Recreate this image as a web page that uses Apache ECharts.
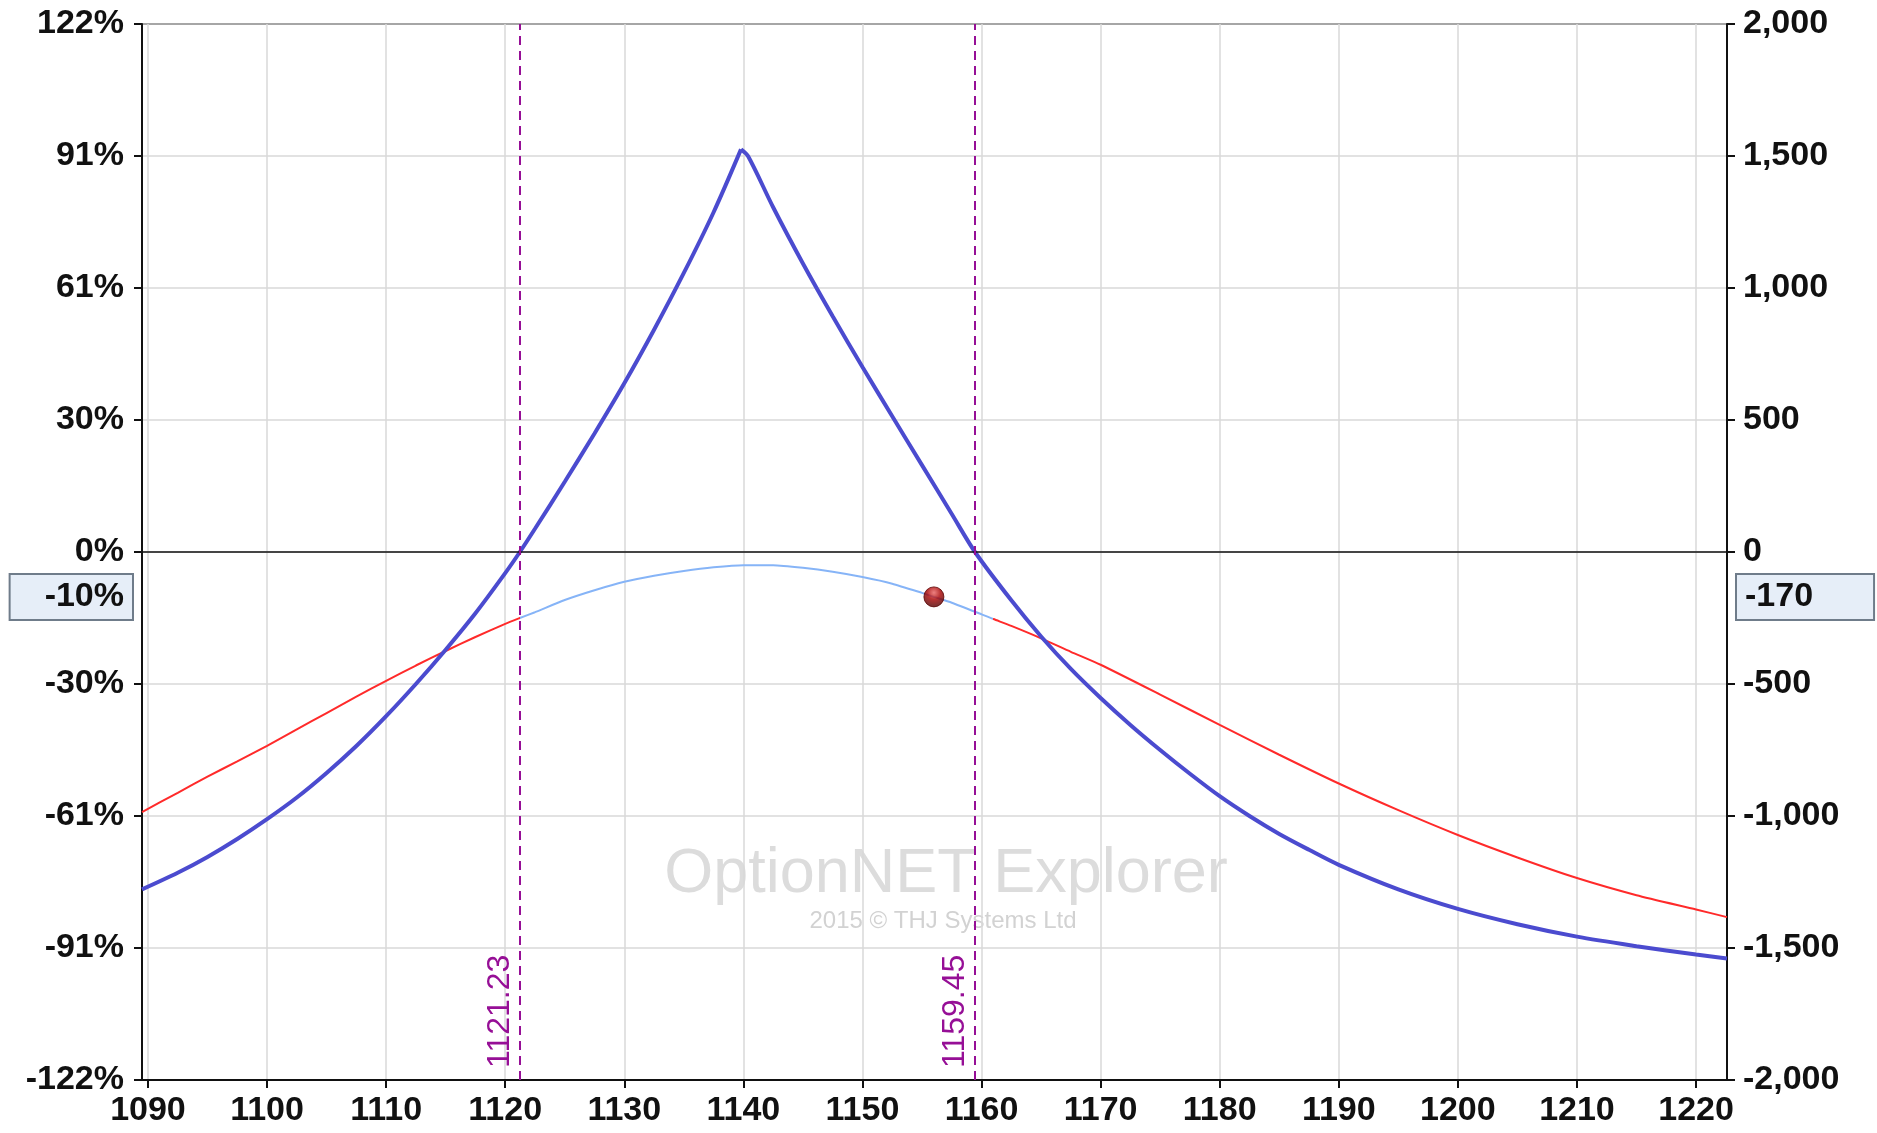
<!DOCTYPE html>
<html>
<head>
<meta charset="utf-8">
<script src="https://cdn.jsdelivr.net/npm/echarts@6/dist/echarts.min.js"></script>
<style>
html,body{margin:0;padding:0;background:#ffffff;}
#chart{width:1877px;height:1133px;}
</style>
</head>
<body>
<div id="chart"></div>
<script>
// ---------- data ----------
const xTickValues = [1090,1100,1110,1120,1130,1140,1150,1160,1170,1180,1190,1200,1210,1220];
const xTickLabels = ['1090','1100','1110','1120','1130','1140','1150','1160','1170','1180','1190','1200','1210','1220'];
const yTickValues = [-2000,-1500,-1000,-500,0,500,1000,1500,2000];
const yLeftTickLabels = ['-122%','-91%','-61%','-30%','0%','30%','61%','91%','122%'];
const yRightTickLabels = ['-2,000','-1,500','-1,000','-500','0','500','1,000','1,500','2,000'];

// P&L at expiration (thick blue)
const expirationPrice = [1089.5,1092.5,1095,1097.5,1100,1102.5,1105,1107.5,1110,1112.5,1115,1117.5,1120,1121.23,1122.5,1125,1127.5,1130,1132.5,1135,1137.5,1139.8,1140.4,1142.5,1145,1147.5,1150,1152.5,1155,1157.5,1159.45,1162.5,1165,1167.5,1170,1172.5,1175,1177.5,1180,1182.5,1185,1187.5,1190,1195,1200,1205,1210,1215,1220,1222.6];
const expirationPnL  = [-1278,-1215,-1155,-1087,-1012,-930,-837,-735,-622,-500,-370,-232,-80,0,88,266,449,639,842,1057,1287,1525,1499,1306,1093,893,701,514,329,144,0,-183,-320,-443,-553,-655,-750,-840,-925,-1000,-1068,-1128,-1185,-1278,-1352,-1410,-1457,-1493,-1525,-1540];

// P&L today (thin line, red outside / light blue inside range)
const todayPrice = [1089.5,1092.5,1095,1097.5,1100,1102.5,1105,1107.5,1110,1112.5,1115,1117.5,1120,1121.23,1122.5,1125,1127.5,1130,1132.5,1135,1137.5,1140,1142.5,1145,1147.5,1150,1152.5,1155,1156,1157.5,1160,1161,1162.5,1165,1167.5,1170,1175,1180,1185,1190,1195,1200,1205,1210,1215,1220,1222.6];
const todayPnL   = [-985,-912,-851,-793,-734,-672,-610,-548,-488,-430,-375,-322,-272,-250,-228,-182,-145,-113,-90,-72,-58,-50,-50,-60,-75,-95,-120,-155,-170,-192,-236,-254,-280,-327,-378,-427,-540,-655,-768,-877,-978,-1072,-1157,-1235,-1300,-1354,-1383];
const todayInnerRange = [1121.23, 1161];

const breakevens = [1121.23, 1159.45];
const currentPrice = [1156];
const currentPnL = [-170];
const currentPnLLeftLabel = '-10%';
const currentPnLRightLabel = '-170';

// ---------- chart ----------
const FONT = 'Liberation Sans';
const chart = echarts.init(document.getElementById('chart'), null, {renderer: 'canvas'});

const zip = (a, b) => a.map((v, i) => [v, b[i]]);
const expData = zip(expirationPrice, expirationPnL);
const peakIdx = expirationPnL.indexOf(Math.max.apply(null, expirationPnL));
const expLeft = expData.slice(0, peakIdx + 1);
const expRight = expData.slice(peakIdx);

const axisLabelBase = {fontFamily: FONT, fontWeight: 'bold', fontSize: 34, color: '#111'};

const yAxisCommon = {
  type: 'value', min: -2000, max: 2000, interval: 500,
  axisLine: {show: true, onZero: false, lineStyle: {color: '#111', width: 2}},
  axisTick: {show: true, length: 8, lineStyle: {color: '#111', width: 2}},
};

const pointerLabelBase = {
  show: true, margin: 10,
  fontFamily: FONT, fontWeight: 'bold', fontSize: 34, color: '#111', lineHeight: 34,
  backgroundColor: '#e6eef8', borderColor: '#6f7c8a', borderWidth: 2, borderRadius: 0,
  shadowBlur: 0, shadowColor: 'transparent'
};

const blue = '#4b4bcf';

const option = {
  animation: false,
  backgroundColor: '#ffffff',
  grid: {left: 142, right: 150, top: 24, bottom: 53, show: true, borderColor: '#111', borderWidth: 2, containLabel: false, outerBoundsMode: 'none'},
  xAxis: {
    type: 'value', min: 1089.5, max: 1222.6,
    axisLine: {show: true, onZero: false, lineStyle: {color: '#111', width: 2}},
    axisTick: {show: true, length: 8, customValues: xTickValues, lineStyle: {color: '#111', width: 2}},
    axisLabel: Object.assign({}, axisLabelBase, {
      customValues: xTickValues, margin: 14,
      formatter: v => xTickLabels[xTickValues.indexOf(v)]
    }),
    splitLine: {show: true, lineStyle: {color: '#d9d9d9', width: 1.5}}
  },
  yAxis: [
    Object.assign({}, yAxisCommon, {
      position: 'left',
      axisLabel: Object.assign({}, axisLabelBase, {margin: 18, formatter: v => yLeftTickLabels[yTickValues.indexOf(v)]}),
      splitLine: {show: true, lineStyle: {color: '#d9d9d9', width: 1.5}},
      axisPointer: {
        show: true, status: 'show', value: currentPnL[0], triggerTooltip: false,
        lineStyle: {opacity: 0, width: 0},
        handle: {show: false},
        label: Object.assign({}, pointerLabelBase, {formatter: () => currentPnLLeftLabel, padding: [5, 8, 5, 34]})
      }
    }),
    Object.assign({}, yAxisCommon, {
      position: 'right',
      axisLabel: Object.assign({}, axisLabelBase, {margin: 16, formatter: v => yRightTickLabels[yTickValues.indexOf(v)]}),
      splitLine: {show: false},
      axisPointer: {
        show: true, status: 'show', value: currentPnL[0], triggerTooltip: false,
        lineStyle: {opacity: 0, width: 0},
        handle: {show: false},
        label: Object.assign({}, pointerLabelBase, {formatter: () => currentPnLRightLabel, padding: [5, 60, 5, 8]})
      }
    })
  ],
  visualMap: {
    show: false, type: 'piecewise', seriesIndex: 0, dimension: 0,
    pieces: [
      {lt: todayInnerRange[0], color: '#ff2a2a'},
      {gte: todayInnerRange[0], lte: todayInnerRange[1], color: '#86b4f7'},
      {gt: todayInnerRange[1], color: '#ff2a2a'}
    ]
  },
  graphic: [
    {type: 'text', x: 946, y: 875, z: -10, silent: true,
      style: {text: 'OptionNET Explorer', fontFamily: FONT, fontSize: 63, fill: '#dcdcdc', align: 'center', verticalAlign: 'middle'}},
    {type: 'text', x: 943, y: 921, z: -10, silent: true,
      style: {text: '2015 \u00a9 THJ Systems Ltd', fontFamily: FONT, fontSize: 24, fill: '#d2d2d2', align: 'center', verticalAlign: 'middle'}}
  ],
  series: [
    {
      name: 'Today', type: 'line', yAxisIndex: 1, showSymbol: false, smooth: 0.2,
      data: zip(todayPrice, todayPnL),
      lineStyle: {width: 2},
      z: 3,
      markLine: {
        silent: true, symbol: 'none', animation: false,
        label: {show: false},
        lineStyle: {color: '#111', width: 1.5, type: 'solid'},
        data: [{yAxis: 0}]
      }
    },
    {
      name: 'Expiration', type: 'line', yAxisIndex: 1, showSymbol: false, smooth: 0.3,
      data: expLeft,
      lineStyle: {width: 4, color: blue}, itemStyle: {color: blue},
      z: 4,
      markLine: {
        silent: true, symbol: 'none', animation: false,
        lineStyle: {color: '#960f96', width: 2, type: [9, 6]},
        label: {
          show: true, position: 'insideStartTop', distance: [12, 4],
          formatter: p => String(p.value),
          fontFamily: FONT, fontSize: 32, color: '#960f96'
        },
        data: breakevens.map(v => ({xAxis: v}))
      }
    },
    {
      name: 'Expiration', type: 'line', yAxisIndex: 1, showSymbol: false, smooth: 0.3,
      data: expRight,
      lineStyle: {width: 4, color: blue}, itemStyle: {color: blue},
      z: 4
    },
    {
      name: 'Current', type: 'scatter', yAxisIndex: 1, symbolSize: 20, z: 6,
      data: zip(currentPrice, currentPnL),
      itemStyle: {
        color: new echarts.graphic.RadialGradient(0.5, 0.3, 0.7, [
          {offset: 0, color: '#e86060'},
          {offset: 0.45, color: '#a80000'},
          {offset: 1, color: '#4a0000'}
        ]),
        borderColor: '#5a0000', borderWidth: 1
      }
    }
  ]
};
chart.setOption(option);
</script>
</body>
</html>
